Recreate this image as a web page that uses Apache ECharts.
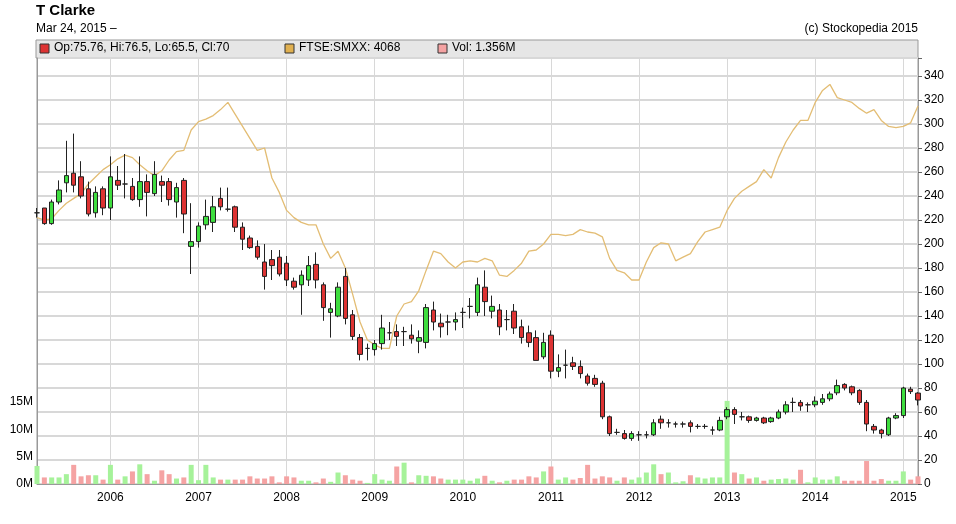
<!DOCTYPE html>
<html><head><meta charset="utf-8">
<script src="https://cdn.jsdelivr.net/npm/echarts@6/dist/echarts.min.js"></script>
<style>html,body{margin:0;padding:0;background:#fff}#c{width:956px;height:524px}</style>
</head><body><div id="c"></div>
<script>
// monthly candles Mar 2005 .. Mar 2015
const opens  = [226,230,217,235,251,259,256,246,226,246,230,253,250,248,237,252,242,252,252,235,253,198,202,216,218,238,229,231,214,205,198,185,187,189,184,169,166,170,183,166,143,140,173,141,122,113,112,117,126,127,127,124,119,118,145,134,135,135,143,148,143,164,144,145,137,144,131,126,122,106,124,94,99,101,98,90,88,84,56,43,42,38,41,41,41,54,51,50,50,51,48,48,45,45,56,62,56,56,53,55,52,55,60,68,68,66,66,68,71,76,83,81,78,68,48,45,41,55,57,79,75.76];
const closes = [226,217,235,245,257,249,240,225,243,230,256,249,250,237,252,243,258,249,237,247,225,202,215,223,231,231,229,214,204,197,189,173,182,175,170,164,174,182,170,147,146,164,138,123,108,113,117,130,126,123,127,121,122,147,135,131,135,137,143,148,166,152,148,131,137,130,122,118,103,118,94,97,99,98,92,84,83,56,42,43,38,42,41,41,51,51,51,50,50,48,48,48,45,53,62,58,56,53,55,51,55,60,66,68,65,66,69,71,75,82,80,76,68,50,45,42,55,57,80,77,70];
const highs  = [230,230,237,253,286,292,269,252,248,248,273,265,275,255,273,258,269,257,255,251,255,234,218,237,240,247,247,232,218,207,203,200,195,195,190,172,178,190,193,168,151,168,180,145,125,117,120,141,135,133,131,133,128,150,152,142,141,143,147,155,172,178,157,150,145,150,137,132,128,126,128,108,112,106,103,92,91,86,57,46,45,44,44,44,54,57,54,52,52,53,50,50,48,56,64,64,60,57,56,56,56,62,69,72,70,68,73,75,77,87,84,82,79,70,50,46,56,59,81,81,76.5];
const lows   = [222,216,216,233,243,243,238,223,222,224,220,245,238,236,231,223,240,235,232,222,209,175,197,212,210,228,227,210,195,196,187,162,170,173,165,162,141,165,163,136,122,139,133,120,103,103,107,112,120,115,115,117,109,113,128,122,124,128,130,138,140,140,138,124,128,125,117,114,103,104,88,89,88,95,88,82,81,54,40,41,37,36,36,38,40,46,47,47,47,43,46,46,41,44,54,50,53,51,52,50,51,54,58,60,61,60,64,66,69,74,78,74,66,44,42,38,40,54,55,75,65.5];
const volumes = [3.3,1.2,1.2,1.2,1.8,3.5,1.4,1.6,1.6,0.8,3.5,0.8,1.4,2.3,3.6,1.8,0.6,2.5,1.8,1.0,1.2,3.5,0.7,3.5,1.2,0.8,0.8,0.8,0.8,1.4,1.0,1.0,1.4,0.3,1.4,1.2,0.6,0.6,0.3,1.0,0.4,2.1,1.6,0.8,0.6,0.2,1.8,0.8,0.6,3.2,3.9,0.3,1.6,1.5,1.4,1.0,0.8,0.8,0.8,0.6,1.0,1.5,0.6,0.3,0.6,0.8,0.8,1.4,1.2,2.3,3.2,0.8,1.2,0.8,1.1,3.5,1.0,1.4,1.2,0.6,1.2,0.8,1.2,2.1,3.6,1.8,2.1,0.3,0.5,1.6,1.2,1.0,1.2,1.2,15.2,2.1,1.8,1.0,1.2,0.6,0.8,0.9,1.0,0.8,2.6,0.3,1.2,0.8,0.8,1.4,0.6,0.6,0.6,4.2,0.6,0.9,0.6,0.6,2.3,0.8,1.4];
const ftse = [222,220,221,228,234,238,242,250,256,262,266,271,274,272,266,261,257,261,270,277,278,295,302,304,307,312,318,308,298,288,278,280,255,243,228,222,218,216,216,200,188,194,180,158,135,120,116,113,113,140,150,152,161,178,194,192,185,180,185,186,185,188,186,174,173,178,184,194,195,200,208,208,207,208,212,210,209,206,188,178,176,170,170,185,197,201,200,186,189,192,202,210,212,214,228,238,244,248,252,262,255,272,285,295,303,303,318,328,333,322,320,318,313,309,312,303,298,297,298,301,315];
const priceTicks = [0,20,40,60,80,100,120,140,160,180,200,220,240,260,280,300,320,340];
const volTicks = [0,5,10,15];

const months = [];
for (let y = 2005, m = 2; months.length < opens.length; m++) { if (m > 11) { m = 0; y++; } months.push(y + '-' + (m + 1)); }
const candles = opens.map((o, i) => [o, closes[i], lows[i], highs[i]]);
const volData = volumes.map((v, i) => ({ value: v, itemStyle: { color: closes[i] >= opens[i] ? '#a6f29a' : '#f5a3a3' } }));
const FONT = '"Liberation Sans Narrow","Liberation Sans",Arial,sans-serif';
const isJan = (i) => months[i].endsWith('-1');

const chart = echarts.init(document.getElementById('c'));
chart.setOption({
  animation: false,
  textStyle: { fontFamily: FONT },
  grid: { left: 37, right: 38, top: 58, bottom: 40, show: true, borderColor: '#999', borderWidth: 1 },
  graphic: [
    { type: 'text', left: 36, top: 3, style: { text: 'T Clarke', font: 'bold 15px "Liberation Sans",Arial,sans-serif', fill: '#000' } },
    { type: 'text', left: 36, top: 23, style: { text: 'Mar 24, 2015 \u2013', font: '12px ' + FONT, fill: '#000' } },
    { type: 'text', right: 38, top: 23, style: { text: '(c) Stockopedia 2015', font: '12px ' + FONT, fill: '#000', textAlign: 'right' } },
    { type: 'rect', shape: { x: 36, y: 40, width: 882, height: 18 }, style: { fill: '#e6e6e6', stroke: '#999', lineWidth: 1 } },
    { type: 'rect', shape: { x: 40, y: 44, width: 9, height: 9 }, style: { fill: '#dd3333', stroke: '#333' } },
    { type: 'text', x: 54, y: 42, style: { text: 'Op:75.76, Hi:76.5, Lo:65.5, Cl:70', font: '12px ' + FONT, fill: '#000' } },
    { type: 'rect', shape: { x: 285, y: 44, width: 9, height: 9 }, style: { fill: '#e0b050', stroke: '#333' } },
    { type: 'text', x: 299, y: 42, style: { text: 'FTSE:SMXX: 4068', font: '12px ' + FONT, fill: '#000' } },
    { type: 'rect', shape: { x: 438, y: 44, width: 9, height: 9 }, style: { fill: '#f5a3a3', stroke: '#333' } },
    { type: 'text', x: 452, y: 42, style: { text: 'Vol: 1.356M', font: '12px ' + FONT, fill: '#000' } }
  ],
  xAxis: {
    type: 'category', data: months, boundaryGap: false,
    axisLine: { lineStyle: { color: '#999' } },
    axisTick: { show: false },
    axisLabel: { interval: (i) => isJan(i), formatter: (v) => v.split('-')[0], color: '#000', fontSize: 12, fontFamily: FONT, margin: 8 },
    splitLine: { show: true, interval: (i) => isJan(i), lineStyle: { color: '#d8d8d8' } }
  },
  yAxis: [
    { type: 'value', position: 'right', min: 0, max: 355, interval: 20,
      axisLine: { show: true, lineStyle: { color: '#999' } },
      axisTick: { show: true, length: 4, lineStyle: { color: '#666' } },
      axisLabel: { color: '#000', fontSize: 12, fontFamily: FONT, margin: 6, formatter: (v) => priceTicks.includes(v) ? String(v) : '' },
      splitLine: { lineStyle: { color: '#d8d8d8', width: 2 } } },
    { type: 'value', position: 'left', min: 0, max: 77.9, interval: 5,
      axisLine: { show: true, lineStyle: { color: '#999' } },
      axisTick: { show: false },
      axisLabel: { color: '#000', fontSize: 12, fontFamily: FONT, margin: 4, formatter: (v) => volTicks.includes(v) ? v + 'M' : '' },
      splitLine: { show: false } }
  ],
  series: [
    { type: 'bar', yAxisIndex: 1, data: volData, barWidth: 5, z: 1 },
    { type: 'line', data: ftse, symbol: 'none', lineStyle: { color: '#e3bd74', width: 1.3 }, z: 2 },
    { type: 'candlestick', data: candles, barWidth: 5, z: 3,
      itemStyle: { color: '#3fdd3f', color0: '#dd3333', borderColor: '#222', borderColor0: '#222', borderWidth: 1 } }
  ]
});
</script></body></html>
